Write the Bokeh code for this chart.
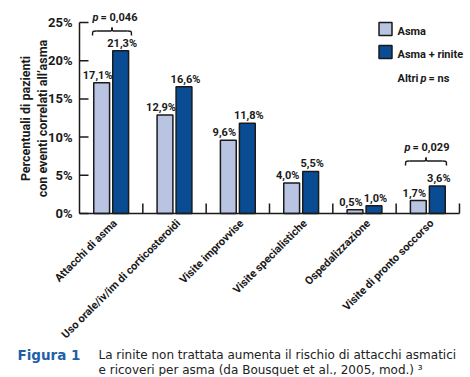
from math import pi
from bokeh.plotting import figure
from bokeh.models import ColumnDataSource, Range1d, Label
from bokeh.core.properties import value
from bokeh.embed import file_html
from bokeh.resources import INLINE

# ---------------- data ----------------
categories = ["Attacchi di asma", "Uso orale/iv/im di corticosteroidi", "Visite improvvise",
              "Visite specialistiche", "Ospedalizzazione", "Visite di pronto soccorso"]
asma = [17.1, 12.9, 9.6, 4.0, 0.5, 1.7]
asma_rinite = [21.3, 16.6, 11.8, 5.5, 1.0, 3.6]
series_names = ["Asma", "Asma + rinite"]
y_ticks = [0, 5, 10, 15, 20, 25]
y_tick_labels = ["0%", "5%", "10%", "15%", "20%", "25%"]
p_categories = [0, 5]
p_texts = ["= 0,046", "= 0,029"]
y_title = ["Percentuali di pazienti", "con eventi correlati all\u2019asma"]
caption_head = "Figura 1"
caption_lines = ["La rinite non trattata aumenta il rischio di attacchi asmatici",
                 "e ricoveri per asma (da Bousquet et al., 2005, mod.) \u00b3"]

# ---------------- style / layout ----------------
FONT = "Roboto"
CAP_FONT = "DejaVu Sans"
LIGHT = "#b8c4e2"
DARK = "#0a4c94"
INK = "#1a1a1a"
OFF = 0.15
BW = 0.25
W, H = 470, 376
ORG_X, ORG_Y = 0, 0     # page position of the canvas
# page-pixel geometry of the plotting area
X0, UX = 79.0, 63.33   # page x of category 0 edge, px per category
Y0, UY = 213.0, 7.64   # page y of 0 %, px per percent


def dx(px):
    return (px - X0) / UX


def dy(py):
    return (Y0 - py) / UY


def fmt(v):
    return ("%.1f" % v).replace(".", ",") + "%"


n = len(categories)
centers = [i + 0.5 for i in range(n)]
src_a = ColumnDataSource(dict(x=[c - OFF for c in centers], top=asma, lab=[fmt(v) for v in asma]))
src_b = ColumnDataSource(dict(x=[c + OFF for c in centers], top=asma_rinite, lab=[fmt(v) for v in asma_rinite]))

p = figure(width=W, height=H, output_backend="svg", toolbar_location=None,
           x_range=Range1d(dx(ORG_X), dx(ORG_X + W)), y_range=Range1d(dy(ORG_Y + H), dy(ORG_Y)),
           x_axis_location=None, y_axis_location=None,
           min_border=0, min_border_left=0, min_border_right=0, min_border_top=0, min_border_bottom=0)
p.outline_line_color = None
p.xgrid.grid_line_color = None
p.ygrid.grid_line_color = None
p.background_fill_color = "white"
p.border_fill_color = "white"

# bars
p.vbar(x="x", top="top", width=BW, source=src_a, fill_color=LIGHT, line_color=INK, line_width=1.5)
p.vbar(x="x", top="top", width=BW, source=src_b, fill_color=DARK, line_color=INK, line_width=1.5)

# value labels
for s, xo in ((src_a, -4), (src_b, 1.5)):
    p.text(x="x", y="top", text="lab", source=s, text_align="center", text_baseline="bottom",
           x_offset=xo, y_offset=-1, text_font=value(FONT), text_font_style="bold",
           text_font_size="11px", text_color=INK)

# axes drawn by hand
p.segment(x0=[0], y0=[0], x1=[n], y1=[0], line_color=INK, line_width=1.5)
p.segment(x0=[0], y0=[0], x1=[0], y1=[max(y_ticks)], line_color=INK, line_width=1.5)
p.segment(x0=[0] * len(y_ticks), y0=y_ticks, x1=[dx(X0 + 9)] * len(y_ticks), y1=y_ticks,
          line_color=INK, line_width=1.5)
p.text(x=[dx(X0 - 7)] * len(y_ticks), y=y_ticks, text=y_tick_labels, text_align="right",
       text_baseline="middle", text_font=value(FONT), text_font_style="bold",
       text_font_size="13px", text_color=INK)
bounds = list(range(1, n + 1))
p.segment(x0=bounds, y0=[0] * n, x1=bounds, y1=[10 / UY] * n, line_color=INK, line_width=1.5)
p.text(x=centers, y=[0] * n, text=categories, angle=pi / 4, text_align="right",
       text_baseline="middle", x_offset=4, y_offset=8, text_font=value(FONT),
       text_font_style="bold", text_font_size="11px", text_color=INK)

# y title
for px, t in zip([25, 42], y_title):
    p.add_layout(Label(x=dx(px), y=dy(118), text=t, angle=pi / 2, text_align="center",
                       text_baseline="middle", text_font=FONT, text_font_style="bold",
                       text_font_size="12.5px", text_color=INK))

# legend (manual)
leg_y = [dy(28.5), dy(51.5)]
p.rect(x=[dx(385)] * 2, y=leg_y, width=13, height=13, width_units="screen", height_units="screen",
       fill_color=[LIGHT, DARK], line_color=INK, line_width=1.5)
p.text(x=[dx(397)] * 2, y=[dy(31), dy(54)], text=series_names, text_align="left",
       text_baseline="middle", text_font=value(FONT), text_font_style="bold",
       text_font_size="11px", text_color=INK)


def lab(px, py, t, style="bold"):
    p.add_layout(Label(x=dx(px), y=dy(py), text=t, text_baseline="middle", text_align="left",
                       text_font=FONT, text_font_style=style, text_font_size="11px",
                       text_color=INK))


# "Altri p = ns"
lab(397, 78, "Altri")
lab(420, 78, "p", "bold italic")
lab(428, 78, "= ns")

# braces with p values: (x-left px, x-right px, end y, bar y, peak y, text y, p x, text x)
brace_spec = {0: (92, 131, 35, 30.5, 27, 17, 92, 100),
              5: (405, 446, 165, 160.5, 157, 147, 404, 412)}
for ci, pt in zip(p_categories, p_texts):
    xl_, xr_, ye, yb, yp, yt, xp, xt = brace_spec[ci]
    xl, xr = dx(xl_), dx(xr_)
    xm = (xl + xr) / 2
    y0, y1, y2 = dy(ye), dy(yb), dy(yp)
    d = 4 / UX
    p.bezier(x0=[xl, xm - d, xr, xm + d], y0=[y0, y1, y0, y1],
             x1=[xl + d, xm, xr - d, xm], y1=[y1, y2, y1, y2],
             cx0=[xl, xm, xr, xm], cy0=[y1, y1, y1, y1],
             cx1=[xl, xm, xr, xm], cy1=[y1, y1, y1, y1], line_color=INK, line_width=1.5)
    p.segment(x0=[xl + d, xm + d], y0=[y1, y1], x1=[xm - d, xr - d], y1=[y1, y1],
              line_color=INK, line_width=1.5)
    lab(xp, yt, "p", "bold italic")
    lab(xt, yt, pt)

# caption
p.add_layout(Label(x=dx(17), y=dy(354), text=caption_head, text_baseline="alphabetic",
                   text_font=CAP_FONT, text_font_style="bold", text_font_size="13.5px",
                   text_color="#1f5fa8"))
for py, t in zip([354, 369], caption_lines):
    p.add_layout(Label(x=dx(98), y=dy(py), text=t, text_baseline="alphabetic", text_font=CAP_FONT,
                       text_font_size="12px", text_color="#222222"))

open("out.html", "w").write(file_html(p, INLINE))
